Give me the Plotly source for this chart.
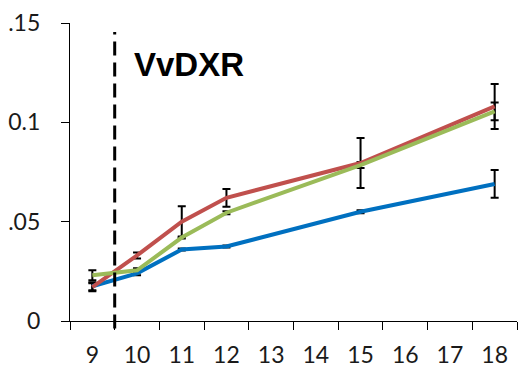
import plotly.graph_objects as go

days = [9, 10, 11, 12, 15, 18]
blue_vals = [0.0175, 0.0240, 0.0360, 0.0375, 0.0550, 0.0690]
blue_err = [0.0020, 0.0010, 0.0005, 0.0005, 0.0008, 0.0070]
red_vals = [0.0170, 0.0330, 0.0500, 0.0620, 0.0795, 0.1080]
red_err = [0.0020, 0.0015, 0.0078, 0.0045, 0.0126, 0.0113]
green_vals = [0.0230, 0.0255, 0.0420, 0.0545, 0.0785, 0.1055]
green_err = [0.0025, 0.0010, 0.0005, 0.0008, 0.0015, 0.0045]

x_ticks = list(range(9, 19))
x_labels = [str(v) for v in x_ticks]
y_ticks = [0, 0.05, 0.1, 0.15]
y_labels = ["0", ".05", "0.1", ".15"]

BLUE = "#0070C0"
RED = "#C0504D"
GREEN = "#9BBB59"

fig = go.Figure()

series = [
    (blue_vals, blue_err, BLUE),
    (red_vals, red_err, RED),
    (green_vals, green_err, GREEN),
]

# error bars underneath lines
for vals, err, col in series:
    fig.add_trace(go.Scatter(
        x=days, y=vals, mode="markers",
        marker=dict(size=1, color="rgba(0,0,0,0)"),
        error_y=dict(type="data", array=err, visible=True,
                     color="black", thickness=2, width=4),
        hoverinfo="skip", showlegend=False,
    ))

for vals, err, col in series:
    fig.add_trace(go.Scatter(
        x=days, y=vals, mode="lines",
        line=dict(color=col, width=4),
        showlegend=False,
    ))

fig.add_shape(type="line", xref="x", yref="paper",
              x0=9.5, x1=9.5, y0=-0.025, y1=0.97,
              line=dict(color="black", width=3, dash="14px,7px"))

fig.add_annotation(text="<b>VvDXR</b>", xref="paper", yref="paper",
                   x=0.139, y=0.862, xanchor="left", yanchor="middle",
                   showarrow=False,
                   font=dict(family="Liberation Sans", size=33, color="black"))

fig.update_layout(
    width=524, height=383,
    margin=dict(l=70, r=7, t=23, b=62),
    paper_bgcolor="white", plot_bgcolor="white",
    font=dict(family="Lato", size=23, color="#1a1a1a"),
)

fig.update_xaxes(
    range=[8.5, 18.5],
    tickmode="array", tickvals=x_ticks, ticktext=x_labels,
    ticks="", ticklabelstandoff=13,
    showline=True, linecolor="black", linewidth=1.3,
    showgrid=False, zeroline=False,
    minor=dict(tickmode="array", tickvals=[v - 0.5 for v in x_ticks] + [18.5],
               ticks="outside", ticklen=8, tickcolor="black", tickwidth=1.3),
)

fig.update_yaxes(
    range=[0, 0.15],
    tickmode="array", tickvals=y_ticks, ticktext=y_labels,
    ticks="outside", ticklen=8, tickcolor="black", tickwidth=1.3,
    ticklabelstandoff=16,
    showline=True, linecolor="black", linewidth=1.3,
    showgrid=False, zeroline=False,
)

fig.write_html("out.html")
